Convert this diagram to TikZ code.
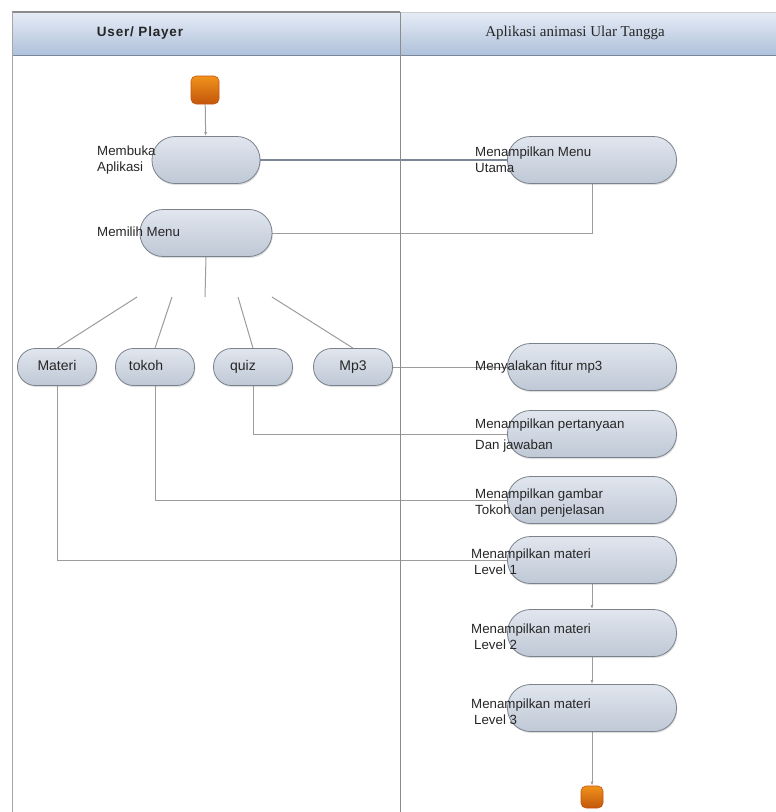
\documentclass[tikz,border=0pt]{standalone}
\usepackage{fontspec}
\setmainfont{Liberation Sans}
\newfontfamily\headserif{Liberation Serif}
\newfontfamily\headsans[LetterSpace=6]{Liberation Sans}
\usetikzlibrary{arrows.meta,backgrounds,shadows}

\definecolor{pilltop}{HTML}{E1E6EE}
\definecolor{pillbot}{HTML}{BFC8D6}
\definecolor{pillline}{HTML}{7B828C}
\definecolor{flowline}{HTML}{9C9C9C}
\definecolor{mainline}{HTML}{7C8696}
\definecolor{headtop}{HTML}{E6ECF6}
\definecolor{headbot}{HTML}{AFC1DB}
\definecolor{startorange}{HTML}{EC7722}
\definecolor{darkorange}{HTML}{C3560B}

\begin{document}
\begin{tikzpicture}[x=1pt,y=-1pt,>={Latex[length=4pt,width=3pt]},
    every node/.style={inner sep=0pt,text=black!85},
    pill/.style={draw=pillline,line width=0.8pt,top color=pilltop,bottom color=pillbot,
        rounded corners=23pt,minimum height=47pt,
        drop shadow={shadow xshift=0.8pt,shadow yshift=-1.5pt,opacity=0.25}},
    smallpill/.style={pill,rounded corners=18pt,minimum height=37pt,minimum width=79pt,
        text height=10pt,text depth=3pt,font=\fontsize{14}{16}\selectfont},
    actlabel/.style={anchor=west,align=left,font=\fontsize{13.3}{16}\selectfont},
    terminal/.style={draw=darkorange,line width=0.6pt,top color=startorange!80!yellow,
        bottom color=darkorange,rounded corners=5pt},
    flow/.style={draw=flowline,line width=1pt}]
    % lanes and header
    \useasboundingbox (0,0) rectangle (776,812);
    \shade[top color=headtop,bottom color=headbot] (12,12) rectangle (776,55);
    \draw[headbot!70!black,line width=1pt] (12,55) -- (776,55);
    \draw[black!45,line width=2pt] (12,12) -- (400,12);
    \draw[black!20,line width=1pt] (400,12) -- (776,12);
    \draw[black!35,line width=0.8pt] (12,12) -- (12,812);
    \draw[black!45,line width=0.8pt] (400,12) -- (400,812);
    \node (user) at (140,33) {\headsans\bfseries\fontsize{13.5}{15}\selectfont User/ Player};
    \node (app) at (575,33) {\headserif\fontsize{15}{17}\selectfont Aplikasi animasi Ular Tangga};

    % user lane
    \node[terminal,minimum size=28pt] (start) at (205,90) {};
    \node[pill,minimum width=108pt] (buka) at (206,160) {};
    \node[actlabel] (bukatext) at (97,160) {Membuka\\Aplikasi};
    \node[pill,minimum width=132pt] (pilih) at (206,233) {};
    \node[actlabel] (pilihtext) at (97,232) {Memilih Menu};
    \coordinate (fork) at (205,297);
    \node[smallpill] (materi) at (57,367) {Materi};
    \node[smallpill] (tokoh) at (155,367) {\hspace*{-18pt}tokoh};
    \node[smallpill] (quiz) at (253,367) {\hspace*{-20pt}quiz};
    \node[smallpill] (mp3) at (353,367) {Mp3};
    \coordinate (fa) at (137,297);
    \coordinate (fb) at (172,297);
    \coordinate (fc) at (238,297);
    \coordinate (fd) at (272,297);

    % application lane
    \node[pill,minimum width=169pt] (utama) at (592,160) {};
    \node[actlabel] (utamatext) at (475,160) {Menampilkan Menu\\Utama};
    \node[pill,minimum width=169pt] (fitur) at (592,367) {};
    \node[actlabel] (fiturtext) at (475,367) {Menyalakan fitur mp3};
    \node[pill,minimum width=169pt] (tanya) at (592,434) {};
    \node[actlabel] (tanyatext) at (475,436) {Menampilkan pertanyaan\\[5pt]Dan jawaban};
    \node[pill,minimum width=169pt] (gambar) at (592,500) {};
    \node[actlabel] (gambartext) at (475,503) {Menampilkan gambar\\Tokoh dan penjelasan};
    \node[pill,minimum width=169pt] (lvla) at (592,560) {};
    \node[actlabel] (lvlatext) at (471,562) {Menampilkan materi\\\hspace*{3pt}Level 1};
    \node[pill,minimum width=169pt] (lvlb) at (592,633) {};
    \node[actlabel] (lvlbtext) at (471,637) {Menampilkan materi\\\hspace*{3pt}Level 2};
    \node[pill,minimum width=169pt] (lvlc) at (592,708) {};
    \node[actlabel] (lvlctext) at (471,712) {Menampilkan materi\\\hspace*{3pt}Level 3};
    \node[terminal,minimum size=22pt] (finish) at (592,797) {};

    % connectors
    \begin{scope}[on background layer]
        \draw[flow,->] (start) -- (buka);
        \draw[draw=mainline,line width=2pt] (buka.east) -- (utama.west);
        \draw[flow] (utama.south) |- (pilih.east);
        \draw[flow] (pilih.south) -- (fork);
        \draw[flow] (fa) -- (materi.north);
        \draw[flow] (fb) -- (tokoh.north);
        \draw[flow] (fc) -- (quiz.north);
        \draw[flow] (fd) -- (mp3.north);
        \draw[flow] (mp3.east) -- (fitur.west);
        \draw[flow] (quiz.south) |- (tanya.west);
        \draw[flow] (tokoh.south) |- (gambar.west);
        \draw[flow] (materi.south) |- (lvla.west);
        \draw[flow,->] (lvla) -- (lvlb);
        \draw[flow,->] (lvlb) -- (lvlc);
        \draw[flow,->] (lvlc) -- (finish);
    \end{scope}
\end{tikzpicture}
\end{document}
